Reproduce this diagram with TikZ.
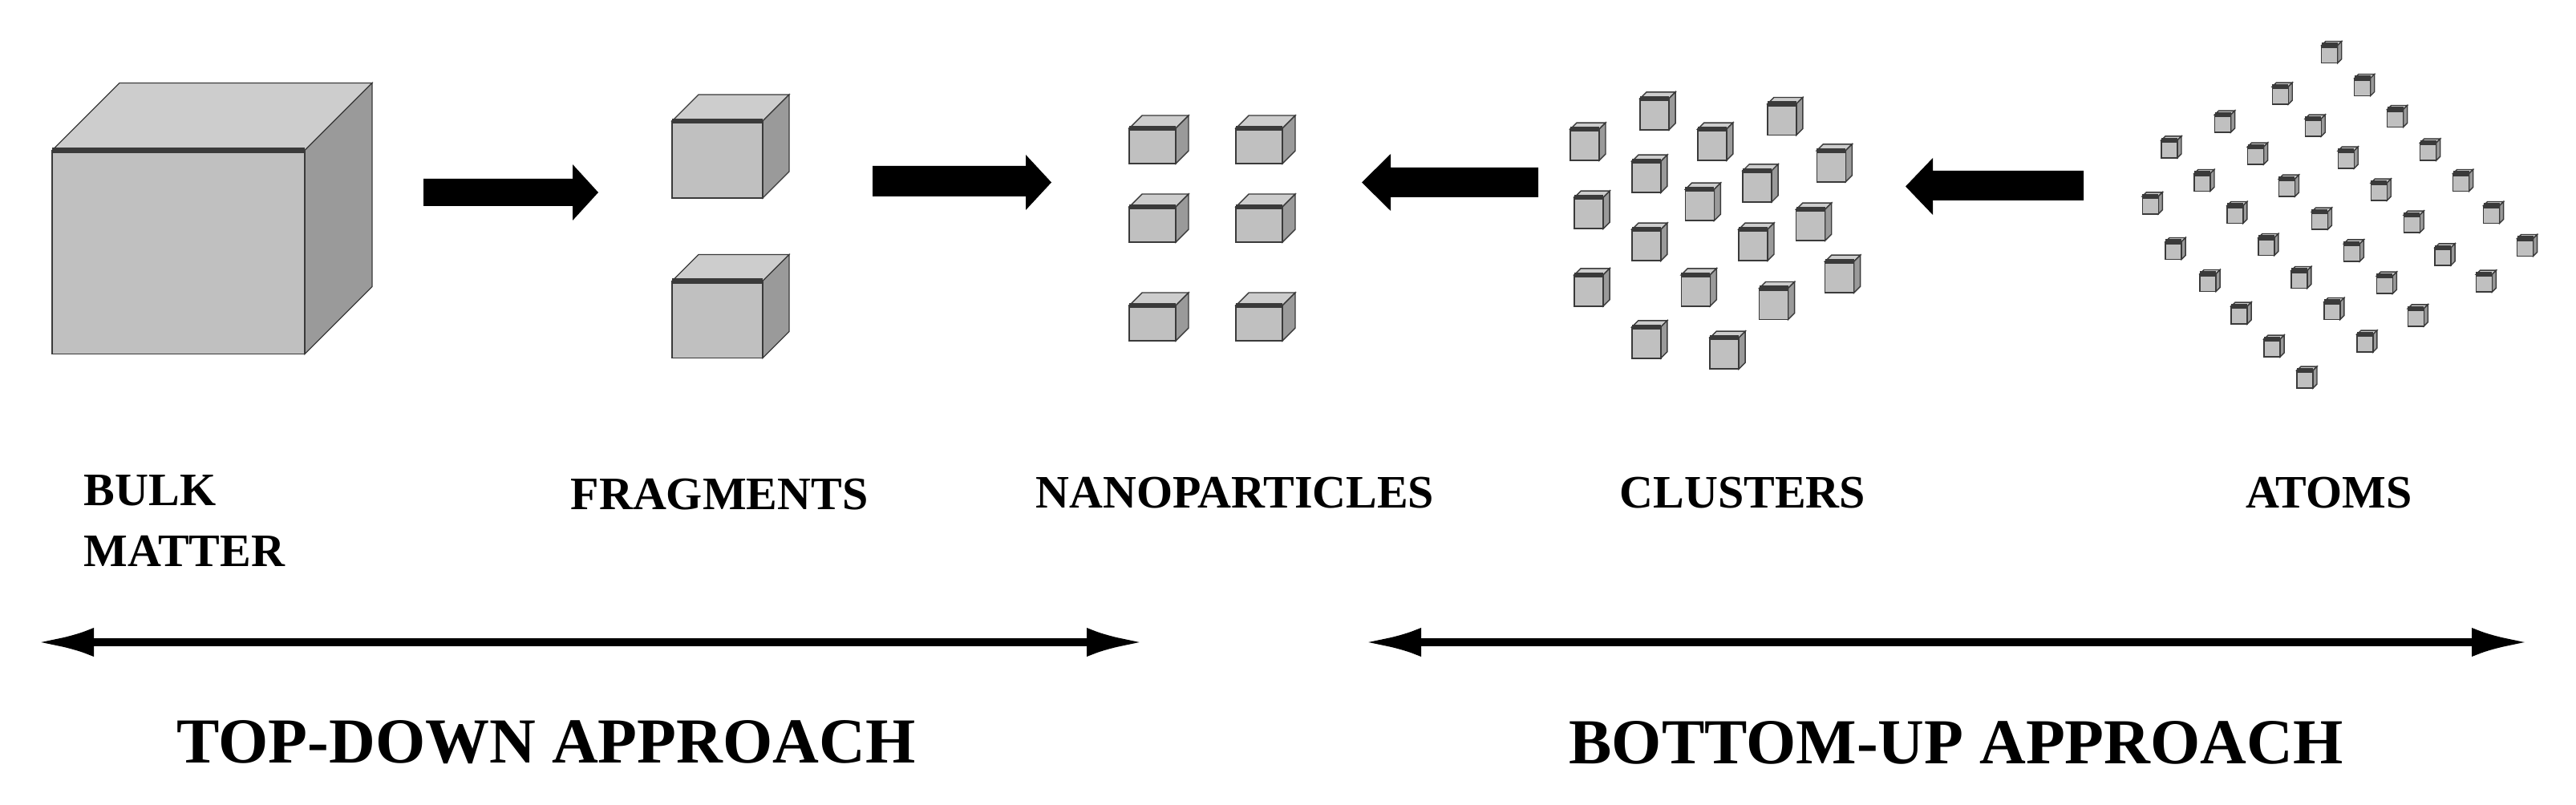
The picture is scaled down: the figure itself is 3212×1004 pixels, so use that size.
\documentclass[tikz,border=0pt]{standalone}
\usepackage{fontspec}
\setmainfont{Liberation Serif}
\usetikzlibrary{arrows.meta}
\definecolor{frontc}{HTML}{C0C0C0}
\definecolor{topc}{HTML}{CDCDCD}
\definecolor{sidec}{HTML}{9A9A9A}
\definecolor{edgec}{HTML}{3A3A3A}
\newcommand\mycube[5]{% cx cy w h d (y downwards)
  \pgfmathsetmacro\xa{#1-(#3+#5)/2}\pgfmathsetmacro\xb{\xa+#3}\pgfmathsetmacro\xc{\xb+#5}
  \pgfmathsetmacro\ya{#2-(#4+#5)/2}\pgfmathsetmacro\yb{\ya+#5}\pgfmathsetmacro\yc{\yb+#4}
  \pgfmathsetmacro\xd{\xa+#5}\pgfmathsetmacro\ye{\yc-#5}
  \filldraw[cubeedge,fill=topc] (\xa,\yb) -- (\xd,\ya) -- (\xc,\ya) -- (\xb,\yb) -- cycle;
  \filldraw[cubeedge,fill=sidec] (\xb,\yb) -- (\xc,\ya) -- (\xc,\ye) -- (\xb,\yc) -- cycle;
  \filldraw[cubeedge,fill=frontc] (\xa,\yb) rectangle (\xb,\yc);
  \draw[cubeedge,line width=1.6pt] (\xa,\yb) -- (\xb,\yb);
}
\newcommand\blockarrow[7]{% x-tail x-headbase x-tip shaft-top shaft-bot head-top head-bot
  \fill[black] (#1,#4) -- (#2,#4) -- (#2,#6) -- (#3,{(#6+#7)/2}) -- (#2,#7) -- (#2,#5) -- (#1,#5) -- cycle;
}
\begin{document}
\begin{tikzpicture}[x=0.25pt,y=-0.25pt,
  cubeedge/.style={draw=edgec,line width=0.35pt},
  lbl/.style={font=\bfseries\fontsize{14.5}{16}\selectfont,inner sep=0pt},
  big/.style={font=\bfseries\fontsize{20}{22}\selectfont,inner sep=0pt},
  dbl/.style={line width=2.6pt,{Latex[length=18pt,width=9pt]}-{Latex[length=18pt,width=9pt]}}]
\useasboundingbox[fill=white] (0,0) rectangle (3212,1004);
% bulk
\mycube{264.5}{272.5}{315}{254}{84}
% fragments
\mycube{911}{182.5}{113}{96}{33}
\mycube{911}{382}{113}{96}{33}
% nanoparticles
\foreach \cx in {1445,1578}{\foreach \cy in {174,272,395}{\mycube{\cx}{\cy}{58}{44}{16}}}
% clusters
\foreach \zx/\zy in {365/530,450/415,520/530,605/435,665/610,440/650,575/685,505/755,370/785,640/830,440/905,570/905,370/1075,500/1075,675/1025,595/1125,440/1270,535/1310}
  {\mycube{1606+\zx*1.0246}{\zy/3}{36}{39}{8}}
% atoms
\foreach \zx/\zy in {1270/195,1310/318,1210/350,1140/455,1250/470,1350/435,1075/550,1180/575,1290/590,1390/560,1115/675,1218/695,1330/710,1430/675,1052/760,1155/795,1258/818,1370/830,1467/795,1080/930,1193/915,1297/937,1408/952,1508/918,1122/1050,1233/1038,1337/1058,1458/1052,1160/1172,1273/1155,1375/1180,1200/1295,1313/1277,1240/1412}
  {\mycube{1606+\zx*1.0246}{\zy/3}{20}{22}{5}}
% block arrows
\blockarrow{528}{714}{746}{223}{257}{205}{275}
\blockarrow{1088}{1279}{1311}{207}{245}{193}{262}
\blockarrow{1918}{1734}{1698}{209}{246}{192}{263}
\blockarrow{2598}{2410}{2376}{213}{250}{197}{268}
% labels
\node[lbl,anchor=west,align=left] (bulk) at (104,650) {BULK\\[3pt]MATTER};
\node[lbl] (frag) at (897,617) {FRAGMENTS};
\node[lbl] (nano) at (1540,615) {NANOPARTICLES};
\node[lbl] (clus) at (2173,615) {CLUSTERS};
\node[lbl] (atom) at (2904,615) {ATOMS};
% approach arrows
\coordinate (tdL) at (45,801); \coordinate (tdR) at (1427,801);
\coordinate (buL) at (1700,801); \coordinate (buR) at (3154,801);
\draw[dbl] (tdL) -- (tdR);
\draw[dbl] (buL) -- (buR);
\node[big] (td) at (681,926) {TOP-DOWN APPROACH};
\node[big] (bu) at (2439,926) {BOTTOM-UP APPROACH};
\end{tikzpicture}
\end{document}
